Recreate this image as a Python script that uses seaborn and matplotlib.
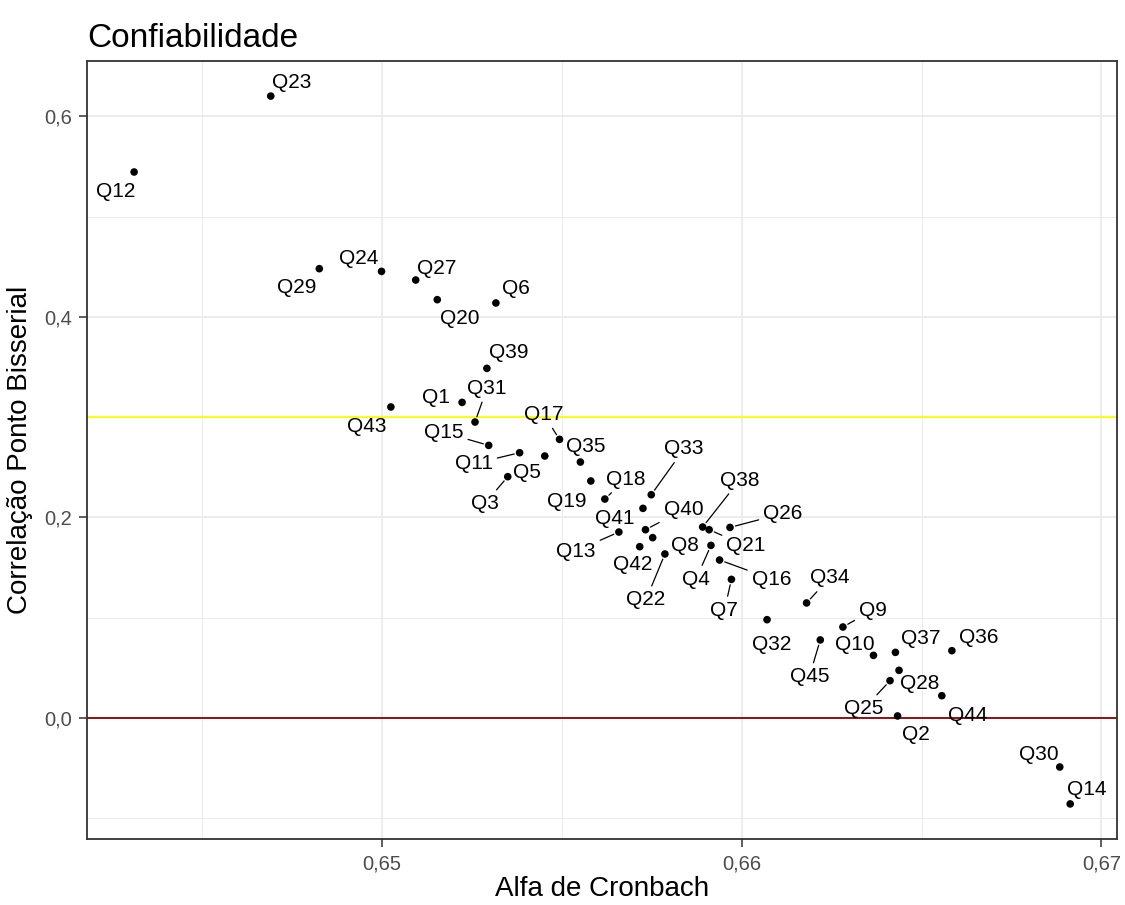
import matplotlib
matplotlib.use("Agg")
import matplotlib.pyplot as plt
import seaborn as sns
import pandas as pd
from matplotlib.ticker import FuncFormatter, FixedLocator

# ---- data ----
items = [f"Q{i}" for i in range(1, 46)]
alpha = [0.65222, 0.66433, 0.65349, 0.65914, 0.65452, 0.65316, 0.65971, 0.65752, 0.66281, 0.66366,
         0.65382, 0.64310, 0.65658, 0.66913, 0.65296, 0.65938, 0.65493, 0.65619, 0.65580, 0.65153,
         0.65909, 0.65786, 0.64690, 0.64998, 0.66412, 0.65967, 0.65093, 0.66437, 0.64825, 0.66884,
         0.65258, 0.66070, 0.65748, 0.66180, 0.65551, 0.66584, 0.66427, 0.65891, 0.65291, 0.65732,
         0.65725, 0.65716, 0.65024, 0.66556, 0.66218]
corr = [0.3147, 0.0020, 0.2406, 0.1721, 0.2612, 0.4138, 0.1382, 0.1798, 0.0907, 0.0624,
        0.2645, 0.5444, 0.1854, -0.0857, 0.2718, 0.1575, 0.2778, 0.2183, 0.2363, 0.4171,
        0.1877, 0.1635, 0.6201, 0.4453, 0.0372, 0.1900, 0.4367, 0.0475, 0.4480, -0.0489,
        0.2951, 0.0980, 0.2226, 0.1147, 0.2552, 0.0671, 0.0654, 0.1904, 0.3486, 0.1877,
        0.2090, 0.1708, 0.3101, 0.0222, 0.0778]
ref_lines = [0.3, 0.0]
ref_colors = ["#FFFF00", "#8B0000"]

title = "Confiabilidade"
xlabel = "Alfa de Cronbach"
ylabel = "Correlação Ponto Bisserial"

# label layout (pixel offsets of label centre from point, screen-down positive; flag = leader segment)
label_layout = {
    "Q1": (-26, -5, False), "Q2": (18, 19, False), "Q3": (-23, 27, True), "Q4": (-15, 34, True),
    "Q5": (-18, 16, False), "Q6": (20, -14, False), "Q7": (-7, 31, True), "Q8": (32, 8, False),
    "Q9": (30, -17, True), "Q10": (-19, -11, False), "Q11": (-46, 11, True), "Q12": (-18, 19, False),
    "Q13": (-43, 19, True), "Q14": (17, -14, False), "Q15": (-45, -13, True), "Q16": (52, 19, True),
    "Q17": (-16, -25, True), "Q18": (21, -20, True), "Q19": (-24, 21, False), "Q20": (22, 19, False),
    "Q21": (37, 16, True), "Q22": (-19, 46, True), "Q23": (21, -14, False), "Q24": (-23, -13, False),
    "Q25": (-26, 28, True), "Q26": (53, -14, True), "Q27": (21, -12, False), "Q28": (21, 13, False),
    "Q29": (-23, 19, False), "Q30": (-21, -13, False), "Q31": (12, -34, True), "Q32": (5, 25, False),
    "Q33": (33, -46, True), "Q34": (23, -25, True), "Q35": (5, -16, False), "Q36": (27, -13, False),
    "Q37": (25, -14, False), "Q38": (37, -47, True), "Q39": (22, -16, False), "Q40": (38, -20, True),
    "Q41": (-28, 10, False), "Q42": (-7, 18, False), "Q43": (-24, 20, False), "Q44": (26, 20, False),
    "Q45": (-11, 37, True),
}

df = pd.DataFrame({"item": items, "alpha": alpha, "corr": corr})

sns.set_theme(style="white")
plt.rcParams["font.family"] = ["Liberation Sans", "DejaVu Sans"]

fig = plt.figure(figsize=(11.25, 9.05), dpi=100)
ax = fig.add_axes([87.3 / 1125, 1 - 839.3 / 905, (1117 - 87.3) / 1125, (839.3 - 60.7) / 905])

# limits with ggplot-like 5% expansion
xr = max(alpha) - min(alpha)
yr = max(corr) - min(corr)
ax.set_xlim(min(alpha) - 0.05 * xr, max(alpha) + 0.05 * xr)
ax.set_ylim(min(corr) - 0.05 * yr, max(corr) + 0.05 * yr)

# grid (theme_bw)
ax.xaxis.set_major_locator(FixedLocator([0.65, 0.66, 0.67]))
ax.xaxis.set_minor_locator(FixedLocator([0.645, 0.655, 0.665]))
ax.yaxis.set_major_locator(FixedLocator([0.0, 0.2, 0.4, 0.6]))
ax.yaxis.set_minor_locator(FixedLocator([-0.1, 0.1, 0.3, 0.5]))
ax.grid(which="major", color="#EBEBEB", linewidth=1.3)
ax.grid(which="minor", color="#EBEBEB", linewidth=0.7)
ax.set_axisbelow(True)

for yv, c in zip(ref_lines, ref_colors):
    ax.axhline(yv, color=c, linewidth=1.3, zorder=2)

sns.scatterplot(data=df, x="alpha", y="corr", color="black", s=30, edgecolor="none",
                ax=ax, zorder=3, legend=False)

for it, xv, yv in zip(items, alpha, corr):
    dx, dy, seg = label_layout[it]
    kw = {}
    if seg:
        kw["arrowprops"] = dict(arrowstyle="-", color="black", lw=0.9, shrinkA=1, shrinkB=4)
    ax.annotate(it, xy=(xv, yv), xytext=(dx, -dy), textcoords="offset pixels",
                ha="center", va="center", fontsize=15, color="black", zorder=4, **kw)

ax.xaxis.set_major_formatter(FuncFormatter(lambda v, p: f"{v:.2f}".replace(".", ",")))
ax.yaxis.set_major_formatter(FuncFormatter(lambda v, p: f"{v:.1f}".replace(".", ",")))

ax.tick_params(axis="both", which="major", direction="out", length=6, width=1.1,
               color="#333333", labelsize=14.5, labelcolor="#4D4D4D", pad=5,
               bottom=True, left=True)
ax.tick_params(axis="both", which="minor", length=0)

for sp in ax.spines.values():
    sp.set_visible(True)
    sp.set_color("#333333")
    sp.set_linewidth(1.3)

ax.set_xlabel(xlabel, fontsize=20, color="black", labelpad=2)
ax.set_ylabel(ylabel, fontsize=20, color="black", labelpad=8)
ax.set_title(title, fontsize=24, color="black", loc="left", pad=10)

fig.savefig("out.png", dpi=100)
